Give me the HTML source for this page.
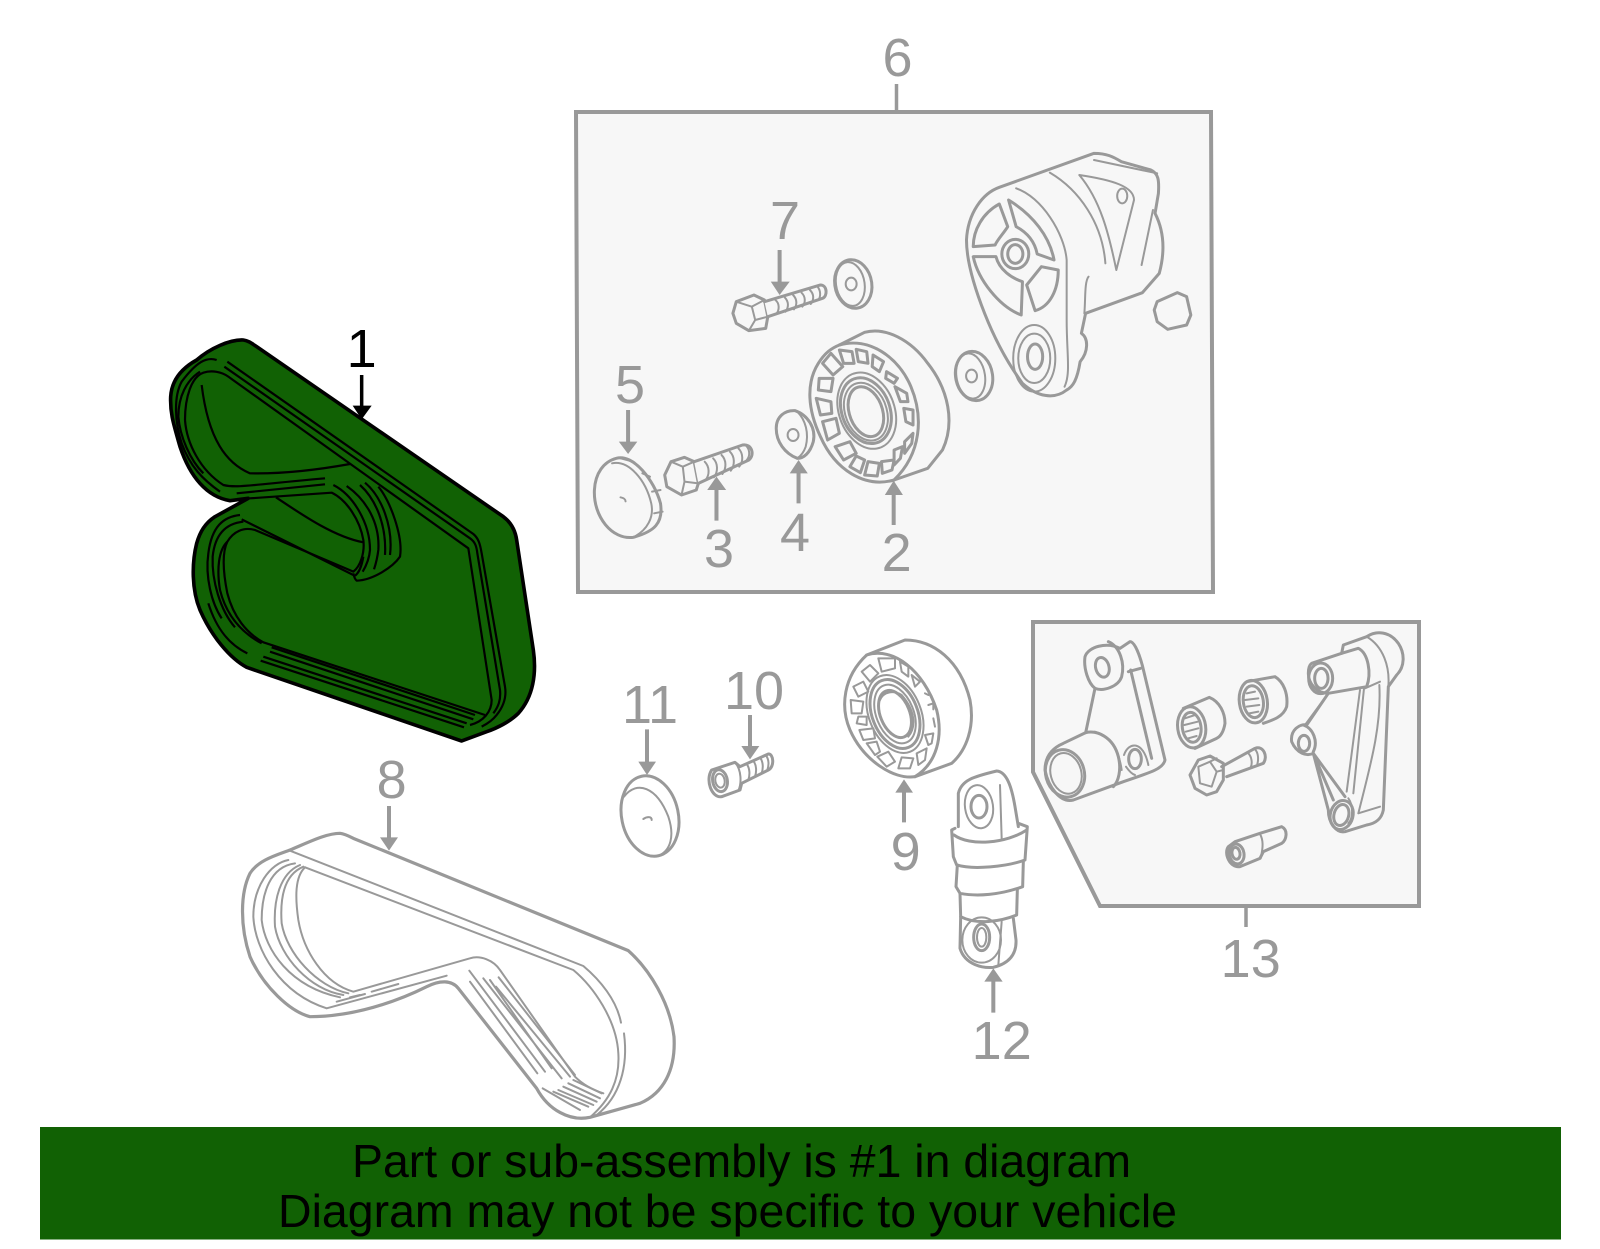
<!DOCTYPE html>
<html><head><meta charset="utf-8"><style>
html,body{margin:0;padding:0;background:#fff;width:1600px;height:1249px;overflow:hidden}
svg{display:block;position:absolute;left:0;top:0}
*{vector-effect:non-scaling-stroke}
.g{fill:none;stroke:#999;stroke-width:3;stroke-linejoin:round;stroke-linecap:round}
.g .t,.t{stroke-width:2}
.f{fill:#f7f7f7}
.w{fill:#fff}
.k{fill:none;stroke:#000;stroke-width:2.2;stroke-linejoin:round}
.a{stroke:#999;stroke-width:4;fill:none}
.h{fill:#999;stroke:none}
text.n{font-family:"Liberation Sans",sans-serif;font-size:54px;fill:#999;text-anchor:middle}
text.b{font-family:"Liberation Sans",sans-serif;font-size:46px;fill:#000}
</style></head><body>
<svg width="1600" height="1249" viewBox="0 0 1600 1249" xmlns="http://www.w3.org/2000/svg">
<rect width="1600" height="1249" fill="#fff"/>

<!-- frames -->
<polygon points="576,112 1211,112 1213,592 578,592" fill="#f7f7f7" stroke="#999" stroke-width="4"/>
<line x1="896.5" y1="84" x2="896.5" y2="111" stroke="#999" stroke-width="3.5"/>
<polygon points="1033,622 1419,622 1419,906 1100,906 1033,772" fill="#f7f7f7" stroke="#999" stroke-width="4"/>
<line x1="1246" y1="907" x2="1246" y2="927" stroke="#999" stroke-width="3.5"/>

<!-- Belt 1 -->
<g transform="translate(140,310) scale(0.33333)">
<path fill="#116104" stroke="#000" stroke-width="3.6" stroke-linejoin="round" d="M170,150 C210,115 270,88 310,90 C325,92 335,100 350,110 L1090,620 C1110,635 1125,655 1130,690 L1180,1020 C1190,1090 1180,1160 1135,1210 C1110,1235 1070,1255 1040,1265 L965,1293 L320,1072 C270,1045 215,980 180,900 C155,840 155,760 170,700 C180,665 195,640 225,620 L325,565 L270,572 C200,560 150,500 120,410 C100,340 90,310 92,260 C95,210 125,175 170,150 Z"/>
<g class="k">
<path d="M630,462 C530,480 420,492 330,490 C260,460 205,390 185,225"/>
<path d="M262,155 L1000,672 C1015,685 1020,700 1025,730 L1095,1130 C1100,1160 1090,1190 1070,1215 C1060,1228 1045,1240 1025,1250"/>
<path d="M253,170 L990,685 C1005,695 1010,710 1012,730 L1080,1140 C1083,1170 1075,1190 1060,1210"/>
<path d="M135,330 C135,260 155,200 190,188 C215,180 245,185 265,200 L985,715 L1055,1170 C1055,1205 1030,1235 990,1245"/>
<path d="M135,330 C140,400 180,480 250,525 C290,535 330,525 555,505"/>
<path d="M1035,1215 L370,997 C320,970 280,920 262,850 C250,790 245,730 262,695 C280,665 310,650 345,660 L640,785 C660,770 675,730 670,690 C660,630 620,570 575,548 L330,565"/>
<path d="M395,1012 L1005,1215 M390,1025 L1000,1228 M370,1040 L980,1240 M362,1052 L972,1252"/>
<path d="M290,550 L555,523 M408,562 C480,610 580,680 670,697"/>
<path d="M305,628 L640,795 M645,797 C655,790 665,770 670,740"/>
<path d="M230,150 C200,140 170,155 125,215 C100,260 105,340 125,400 C150,470 190,510 240,545"/>
<path d="M180,185 C140,210 115,260 115,320 C120,380 150,450 190,490"/>
<path d="M580,525 C640,555 690,640 690,720 C688,745 680,765 668,785"/>
<path d="M620,528 C680,570 720,640 715,720 C712,745 708,760 702,778"/>
<path d="M660,525 C710,570 740,650 735,735"/>
<path d="M675,518 C725,560 760,650 750,735"/>
<path d="M715,530 C750,570 790,680 780,740 C760,770 700,810 650,812 C645,808 642,800 640,790"/>
<path d="M300,615 C250,620 215,650 205,730 C195,800 215,880 245,925"/>
<path d="M310,635 C260,640 225,670 218,740 C215,810 240,900 285,952"/>
<path d="M262,695 C235,720 230,780 240,840 C255,900 290,960 365,1000"/>
<path d="M322,1030 C270,1005 230,960 205,880"/>
</g>
<path class="k" style="stroke-width:3.5" d="M665,195 L665,295"/>
<polygon points="638,287 695,287 665,328" fill="#000"/>
</g>
<text x="361.7" y="367" font-family="Liberation Sans, sans-serif" font-size="54" fill="#000" text-anchor="middle">1</text>

<!-- Assembly 6 parts (crop coordinates are anisotropic) -->
<g transform="translate(570,100) scale(0.4209,0.33333)" class="g">
<!-- housing -->
<path class="f" d="M1020,262 L1245,160 C1275,160 1290,170 1310,185 L1380,210 C1398,220 1400,240 1398,280 L1390,340 C1410,390 1415,450 1400,520 L1360,578 L1225,640 L1215,700 C1232,715 1232,755 1212,785 C1205,840 1195,860 1180,870 C1150,900 1110,890 1075,850 C1040,790 1010,720 985,640 C960,560 942,480 942,420 C945,340 980,280 1020,262 Z"/>
<path class="t" d="M1060,265 C1120,290 1175,400 1180,480 L1180,660 C1180,760 1190,820 1175,860"/>
<path class="t" d="M1140,218 C1210,270 1265,370 1272,490"/>
<path class="t" d="M1210,225 C1290,240 1340,260 1340,300 L1298,510 C1280,400 1260,300 1210,225 Z"/>
<path class="t" d="M1385,330 L1358,495 M1245,180 L1395,220 M1232,530 C1222,545 1225,600 1222,640"/>
<ellipse class="t" cx="1312" cy="288" rx="12" ry="22"/>
<path d="M1020,312 C980,340 958,390 958,440 L1010,435 C1015,420 1030,400 1040,380 Z"/>
<path d="M1042,300 C1100,345 1140,410 1150,480 L1110,462 C1105,430 1090,400 1060,380 Z"/>
<path d="M1160,510 C1160,570 1140,620 1105,632 L1085,555 L1120,500 Z"/>
<path d="M958,470 L1012,470 C1020,510 1050,535 1075,545 L1072,645 C1020,620 970,540 958,470 Z"/>
<ellipse cx="1058" cy="462" rx="32" ry="44"/>
<ellipse cx="1058" cy="462" rx="18" ry="28"/>
<ellipse class="t" cx="1103" cy="775" rx="50" ry="100"/>
<ellipse class="t" cx="1103" cy="775" rx="38" ry="74"/>
<ellipse cx="1105" cy="770" rx="18" ry="38"/>
<!-- nut -->
<polygon class="f" points="1395,605 1443,578 1465,590 1475,645 1465,675 1420,688 1395,665 1388,630"/>
<!-- bolt 7 -->
<polygon class="f" points="387,640 395,605 437,585 462,600 470,650 465,685 425,692 395,670"/>
<path class="t" d="M395,605 L432,620 L462,600 M432,620 L440,660 L425,692 M440,660 L470,650"/>
<path class="f" d="M462,605 L595,555 C612,555 612,590 600,595 L470,650"/>
<path class="t" d="M488,600 C498,610 498,630 490,642 M510,592 C520,605 520,622 512,635 M530,585 C540,598 540,615 532,628 M550,578 C560,590 560,608 552,620 M570,570 C580,582 580,600 572,612 M588,560 C596,572 596,590 590,600"/>
<!-- top washer -->
<ellipse class="f" cx="673" cy="552" rx="44" ry="73" transform="rotate(-6 673 552)"/>
<ellipse class="t" cx="666" cy="552" rx="34" ry="66" transform="rotate(-6 666 552)"/>
<ellipse class="t" cx="668" cy="552" rx="13" ry="19"/>
<!-- pulley 2 -->
<path class="f" d="M640,735 L700,697 C750,680 810,720 850,790 C900,870 915,970 885,1050 L850,1105 L770,1140 C700,1165 630,1110 595,1010 C565,930 560,850 590,790 C605,760 620,745 640,735 Z"/>
<path d="M640,735 C710,710 780,770 810,860 C840,950 835,1060 770,1140"/>
<ellipse class="t" cx="705" cy="932" rx="67" ry="116" transform="rotate(-12 705 932)"/>
<ellipse cx="703" cy="932" rx="58" ry="100" transform="rotate(-12 703 932)"/>
<ellipse cx="703" cy="935" rx="40" ry="76" transform="rotate(-12 703 935)"/>
<ellipse class="t" cx="703" cy="935" rx="50" ry="88" transform="rotate(-12 703 935)"/>
<g>
<polygon points="640,750 670,755 675,790 650,790"/><polygon points="680,748 705,755 708,790 685,785"/>
<polygon points="720,765 745,785 735,815 718,800"/><polygon points="752,815 778,835 770,850 750,835"/>
<polygon points="772,860 800,880 803,905 785,905"/><polygon points="793,925 815,930 815,975 798,965"/>
<polygon points="795,1025 815,1000 812,1030 795,1060"/><polygon points="770,1050 790,1040 785,1075 770,1095"/>
<polygon points="740,1085 770,1080 765,1110 742,1120"/><polygon points="708,1085 735,1090 730,1128 700,1125"/>
<polygon points="680,1068 700,1080 690,1118 665,1100"/><polygon points="630,1040 665,1025 680,1060 650,1080"/>
<polygon points="600,965 632,955 640,1000 612,1020"/><polygon points="585,895 620,905 622,940 595,945"/>
<polygon points="592,835 625,835 620,875 590,870"/><polygon points="600,790 620,760 648,800 625,825"/>
</g>
<!-- right washer -->
<ellipse class="f" cx="960" cy="828" rx="44" ry="74" transform="rotate(-6 960 828)"/>
<ellipse class="t" cx="952" cy="828" rx="34" ry="68" transform="rotate(-6 952 828)"/>
<ellipse class="t" cx="954" cy="828" rx="13" ry="19"/>
<!-- washer 4 -->
<path class="f" d="M490,985 C490,950 510,930 535,932 C565,945 585,985 578,1025 C570,1060 555,1075 540,1075 C510,1060 490,1025 490,985 Z"/>
<path class="t" d="M540,935 C560,960 568,1000 560,1040 C555,1058 548,1068 540,1075"/>
<ellipse class="t" cx="530" cy="1005" rx="13" ry="18"/>
<!-- bolt 3 -->
<polygon class="f" points="225,1125 240,1085 272,1072 295,1085 305,1150 300,1170 265,1185 230,1160"/>
<path class="t" d="M240,1085 L268,1100 L295,1085 M268,1100 L272,1145 L265,1185 M272,1145 L305,1150"/>
<path class="f" d="M295,1085 L410,1035 C432,1030 440,1065 425,1080 L305,1150"/>
<path class="t" d="M320,1085 C332,1100 332,1125 322,1140 M340,1075 C352,1090 352,1115 342,1132 M360,1065 C372,1080 372,1105 362,1122 M380,1055 C392,1070 392,1095 382,1112 M400,1045 C412,1060 412,1085 402,1100 M418,1036 C428,1050 428,1068 420,1080"/>
<!-- cap 5 -->
<path class="f" d="M110,1075 C150,1060 200,1140 215,1210 C222,1270 200,1295 150,1312 C100,1320 55,1250 58,1170 C60,1120 80,1085 110,1075 Z"/>
<path class="t" d="M100,1090 C140,1080 180,1140 193,1210 C200,1250 185,1290 150,1312 M120,1075 L150,1085 M172,1120 L190,1130 M195,1175 L215,1170 M200,1240 L220,1235"/>
<path class="t" d="M120,1192 C128,1194 132,1198 132,1204"/>
</g>

<!-- Group 13 parts -->
<g transform="translate(1020,610) scale(0.33333)" class="g">
<!-- left bracket -->
<path d="M225,235 C205,220 190,175 195,140 C205,110 260,95 300,115 L330,95 C345,95 360,140 368,170 L435,450 C430,475 400,485 310,515 L160,570 C120,580 85,530 75,480 C75,440 95,415 130,400 L197,368 L225,235 Z"/>
<path d="M265,95 C300,110 315,160 305,200 C295,230 250,245 225,235"/>
<ellipse cx="247" cy="172" rx="20" ry="30" transform="rotate(-15 247 172)"/>
<path d="M325,185 L362,175 M332,180 L395,445"/>
<path d="M197,368 C230,360 280,380 295,440 C305,480 295,515 280,530"/>
<path class="t" d="M225,365 C265,375 295,410 305,480"/>
<ellipse cx="135" cy="490" rx="58" ry="72" transform="rotate(-15 135 490)"/>
<ellipse class="t" cx="138" cy="490" rx="46" ry="62" transform="rotate(-15 138 490)"/>
<ellipse cx="345" cy="447" rx="19" ry="29"/>
<path class="t" d="M312,435 C325,395 370,390 385,465 M318,470 C325,480 335,492 345,495"/>
<!-- bushings -->
<path d="M490,295 L568,262 C600,275 615,310 615,340 C610,370 600,380 590,385 L525,415"/>
<ellipse cx="515" cy="352" rx="42" ry="62" transform="rotate(-8 515 352)"/>
<ellipse cx="515" cy="352" rx="28" ry="45" transform="rotate(-8 515 352)"/>
<path class="t" d="M495,325 L525,315 M493,345 L533,335 M497,365 L535,355 M505,385 L530,378"/>
<path d="M680,215 L765,200 C790,215 805,250 800,290 C790,320 760,330 730,340"/>
<ellipse cx="700" cy="275" rx="42" ry="64" transform="rotate(-8 700 275)"/>
<ellipse cx="700" cy="275" rx="30" ry="48" transform="rotate(-8 700 275)"/>
<path class="t" d="M680,250 L705,245 M675,270 L715,265 M680,290 L718,285 M688,310 L715,305"/>
<!-- bolt -->
<path d="M510,495 L535,450 L570,438 L610,460 L610,510 L590,545 L560,555 L525,535 Z"/>
<path class="t" d="M535,470 L570,455 L590,485 L575,530 L540,520 Z M570,455 L590,445 M590,485 L610,480"/>
<path d="M605,470 L705,415 C730,405 745,440 730,460 L620,500"/>
<path class="t" d="M685,430 C695,440 698,460 692,472 M705,418 C715,428 716,448 712,462"/>
<!-- pin -->
<path d="M645,695 L720,670 L785,650 C805,660 800,690 785,700 L730,725 L720,745 L660,770 C630,775 610,730 625,710 Z"/>
<ellipse cx="650" cy="732" rx="22" ry="30" transform="rotate(-10 650 732)"/>
<ellipse cx="648" cy="730" rx="12" ry="18" transform="rotate(-10 648 730)"/>
<path class="t" d="M720,672 C730,690 730,710 722,745"/>
<!-- right bracket -->
<path d="M965,130 L970,105 L1040,80 C1070,60 1110,65 1135,100 C1155,130 1155,170 1130,195 L1105,230 L1090,600 C1085,625 1070,640 1040,645 L975,665 C950,670 925,640 925,600 L880,430 C860,440 830,430 815,395 C810,360 840,340 860,345 L925,250"/>
<path d="M875,160 L965,130 L1015,115 C1045,130 1055,190 1040,230 L925,250 C890,250 865,220 865,190 C865,175 868,165 875,160 Z"/>
<ellipse cx="902" cy="205" rx="36" ry="46"/>
<ellipse cx="904" cy="205" rx="20" ry="30"/>
<path class="t" d="M1040,80 C1090,110 1110,170 1105,230 M1035,235 L1080,215 M1020,240 L980,545 M1032,235 L1000,550 M1078,225 C1085,350 1050,470 1015,610 L1080,590"/>
<path class="t" d="M925,250 L855,345"/>
<path d="M850,345 C880,355 895,395 880,425 M880,430 L975,560 M880,430 L940,570"/>
<ellipse cx="852" cy="400" rx="17" ry="24"/>
<ellipse cx="965" cy="615" rx="34" ry="44" transform="rotate(15 965 615)"/>
<ellipse cx="964" cy="615" rx="22" ry="32" transform="rotate(15 964 615)"/>
<path class="t" d="M985,565 C1000,585 1000,625 985,640"/>
</g>

<!-- Loose parts in middle -->
<g transform="translate(600,620) scale(0.33333)" class="g">
<!-- cap 11 -->
<ellipse cx="150" cy="588" rx="85" ry="122" transform="rotate(-12 150 588)"/>
<path class="t" d="M72,530 C110,480 170,500 205,590 C225,650 210,690 180,705"/>
<path class="t" d="M130,597 C140,590 155,588 155,600"/>
<!-- screw 10 -->
<path d="M335,450 L405,427 L420,440 L505,402 C520,400 525,440 505,450 L425,490 L420,510 L365,530 C335,535 315,480 335,450 Z"/>
<ellipse cx="360" cy="482" rx="22" ry="33" transform="rotate(-10 360 482)"/>
<ellipse class="t" cx="360" cy="482" rx="14" ry="21" transform="rotate(-10 360 482)"/>
<path class="t" d="M405,427 C425,450 425,490 415,512 M440,432 C450,445 450,465 445,480 M460,423 C470,435 470,455 465,470 M480,413 C490,425 490,445 485,460 M497,405 C507,418 507,435 502,450"/>
<!-- pulley 9 -->
<path d="M800,105 L915,60 C1000,60 1080,120 1110,240 C1125,320 1100,390 1055,430 L945,470 C880,480 790,420 750,330 C720,260 730,170 800,105 Z"/>
<path d="M800,105 C880,80 970,150 1010,270 C1030,350 1010,430 945,470"/>
<ellipse class="t" cx="885" cy="282" rx="78" ry="122" transform="rotate(-22 885 282)"/>
<ellipse cx="885" cy="282" rx="68" ry="108" transform="rotate(-22 885 282)"/>
<ellipse class="t" cx="885" cy="282" rx="56" ry="92" transform="rotate(-22 885 282)"/>
<ellipse cx="885" cy="282" rx="44" ry="74" transform="rotate(-22 885 282)"/>
<path class="t" d="M905,225 C945,270 950,320 925,350 M840,240 C850,215 880,210 905,225"/>
<g class="t">
<polygon points="835,115 885,115 885,145 845,155"/><polygon points="785,155 810,135 835,160 810,185"/>
<polygon points="760,200 790,185 805,215 775,230"/><polygon points="752,240 790,245 785,280 755,280"/>
<polygon points="775,290 800,290 800,315 770,310"/><polygon points="778,330 820,325 825,355 790,360"/>
<polygon points="800,370 830,365 840,395 825,405"/><polygon points="832,410 865,395 885,425 860,440"/>
<polygon points="895,445 905,412 940,415 930,445"/><polygon points="950,400 980,385 975,420 955,435"/>
<polygon points="975,345 1000,340 995,370 985,375"/><polygon points="900,125 925,140 925,170 905,155"/>
<polygon points="935,165 960,185 945,200"/>
<path d="M975,220 L985,225 M985,255 L1000,250 L1000,268 M1000,295 L1005,320"/>
</g>
<!-- tensioner 12 -->
<path d="M1075,620 L1075,520 C1085,480 1120,470 1190,453 C1220,455 1235,500 1245,560 L1255,620"/>
<ellipse class="t" cx="1137" cy="560" rx="42" ry="65" transform="rotate(-8 1137 560)"/>
<ellipse cx="1137" cy="560" rx="24" ry="34"/>
<path class="t" d="M1200,495 L1205,655"/>
<path d="M1065,625 L1055,630 L1060,710 L1070,735 C1120,750 1220,740 1275,720 L1282,620 L1255,610"/>
<path d="M1062,645 C1110,680 1220,670 1280,630"/>
<path d="M1072,735 L1068,800 L1080,820 C1130,830 1200,825 1268,800 L1270,725"/>
<path d="M1080,820 L1082,890 C1130,915 1200,905 1250,885 L1252,810"/>
<path d="M1082,890 L1080,985 C1095,1035 1150,1045 1180,1042 C1230,1030 1250,1000 1248,960 L1240,895"/>
<ellipse class="t" cx="1145" cy="960" rx="58" ry="68"/>
<ellipse cx="1145" cy="952" rx="24" ry="40"/>
<ellipse class="t" cx="1145" cy="952" rx="14" ry="28"/>
<path class="t" d="M1205,905 L1195,1035"/>
</g>

<!-- Belt 8 -->
<g transform="translate(220,760) scale(0.33333)">
<g class="g">
<path style="stroke-width:3.2" d="M210,270 C270,245 320,220 360,220 C375,222 390,230 400,235 L1225,572 C1290,630 1350,730 1362,830 C1368,930 1330,1000 1260,1030 L1110,1072 C1050,1085 985,1050 950,985 L715,685 C695,660 660,660 620,680 C530,725 400,770 270,770 C210,755 130,680 90,590 C60,500 60,400 90,340 C115,300 170,285 210,270 Z"/>
<g class="t">
<path d="M210,272 L1090,618 C1140,660 1190,720 1203,788"/>
<path d="M255,322 L1060,630 C1120,680 1190,780 1195,880 C1200,960 1170,1020 1110,1072"/>
<path d="M1212,820 C1225,920 1200,1010 1130,1065"/>
<path d="M205,300 C150,310 100,380 100,470 C105,570 180,700 320,745 L680,647"/>
<path d="M225,310 C150,320 125,400 125,480 C135,570 210,680 360,712"/>
<path d="M240,315 C180,340 160,420 165,500 C180,590 270,690 370,705"/>
<path d="M250,320 C190,345 180,420 185,490 C200,580 290,680 385,700"/>
<path d="M255,322 C225,350 225,410 235,480 C250,570 310,670 400,695 L750,595 C780,585 820,600 840,630 L1065,950 C1090,975 1120,990 1150,1000"/>
<path d="M455,695 L535,672 M350,725 L435,702 M390,712 L420,705"/>
<path d="M748,632 L975,935 M750,665 L952,940 M790,655 L1025,955 M828,680 L1050,950 M836,652 L1065,945 M810,660 L995,925"/>
<path d="M1060,960 L1145,1000 M1045,970 L1140,1015 M1030,980 L1130,1025 M1015,990 L1120,1035 M1000,995 L1105,1040 M968,985 L1080,1050"/>
</g>
</g>
</g>

<!-- Arrows: assembly 6 -->
<g transform="translate(570,100) scale(0.4209,0.33333)">
<path class="a" d="M498,450 L498,550 M138,930 L138,1030 M348,1262 L348,1165 M543,1210 L543,1115 M769,1275 L769,1180"/>
<polygon class="h" points="477,545 522,545 498,585"/>
<polygon class="h" points="116,1025 160,1025 138,1062"/>
<polygon class="h" points="326,1170 371,1170 348,1130"/>
<polygon class="h" points="522,1120 565,1120 543,1080"/>
<polygon class="h" points="748,1185 791,1185 769,1142"/>
</g>
<g transform="translate(600,620) scale(0.33333)">
<path class="a" d="M141,328 L141,430 M450,285 L450,383 M912,607 L912,513 M1180,1178 L1180,1080"/>
<polygon class="h" points="115,425 168,425 141,465"/>
<polygon class="h" points="424,378 478,378 450,418"/>
<polygon class="h" points="886,518 939,518 912,478"/>
<polygon class="h" points="1153,1085 1208,1085 1180,1045"/>
</g>
<g transform="translate(220,760) scale(0.33333)">
<path class="a" d="M507,138 L507,236"/>
<polygon class="h" points="480,232 534,232 507,272"/>
</g>

<!-- Labels -->
<text class="n" x="897.5" y="76">6</text>
<text class="n" x="785" y="239">7</text>
<text class="n" x="630" y="403">5</text>
<text class="n" x="719" y="567">3</text>
<text class="n" x="795" y="551">4</text>
<text class="n" x="896.6" y="571">2</text>
<text class="n" x="650" y="723">11</text>
<text class="n" x="754" y="709">10</text>
<text class="n" x="905.7" y="870">9</text>
<text class="n" x="1001.7" y="1059">12</text>
<text class="n" x="391.7" y="798">8</text>
<text class="n" x="1250.7" y="977">13</text>

<!-- Banner -->
<rect x="40" y="1127" width="1521" height="112.5" fill="#116104"/>
<text class="b" x="352" y="1177" textLength="779" lengthAdjust="spacingAndGlyphs">Part or sub-assembly is #1 in diagram</text>
<text class="b" x="278" y="1227" textLength="899" lengthAdjust="spacingAndGlyphs">Diagram may not be specific to your vehicle</text>
</svg>
</body></html>
